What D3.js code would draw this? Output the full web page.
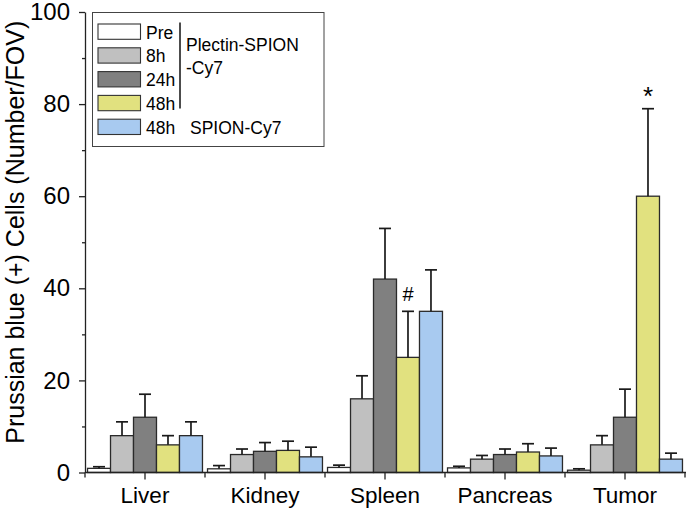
<!DOCTYPE html>
<html>
<head>
<meta charset="utf-8">
<script src="https://cdn.jsdelivr.net/npm/d3@7"></script>
<style>
html,body{margin:0;padding:0;background:#fff;}
svg{display:block;font-family:"Liberation Sans",Arial,Helvetica,sans-serif;}
</style>
</head>
<body>
<svg id="chart" width="689" height="511"></svg>
<script>
// ---- data ----
const categories = ["Liver", "Kidney", "Spleen", "Pancreas", "Tumor"];
const seriesNames = ["Pre", "8h", "24h", "48h", "48h SPION"];
const seriesLabels = ["Pre", "8h", "24h", "48h", "48h"];
const seriesColors = ["#ffffff", "#c0c0c0", "#808080", "#e1e17f", "#a8caf0"];
// values per series (order: Liver, Kidney, Spleen, Pancreas, Tumor)
const valPre   = [0.9, 0.8, 1.1, 1.0, 0.5];
const val8h    = [8.0, 3.9, 16.0, 2.9, 6.0];
const val24h   = [12.0, 4.6, 42.0, 3.9, 12.0];
const val48h   = [6.0, 4.8, 25.0, 4.45, 60.0];
const valSpion = [8.0, 3.4, 35.0, 3.6, 2.9];
const errPre   = [0.35, 0.7, 0.5, 0.35, 0.3];
const err8h    = [3.0, 1.2, 5.0, 0.8, 2.0];
const err24h   = [5.0, 1.9, 11.0, 1.2, 6.1];
const err48h   = [2.0, 2.0, 10.0, 1.8, 19.0];
const errSpion = [3.0, 2.1, 9.0, 1.7, 1.3];
const yTicks = [0, 20, 40, 60, 80, 100];
const yMinorTicks = [10, 30, 50, 70, 90];
const annotations = [{cat: "Spleen", series: "48h", text: "#"}, {cat: "Tumor", series: "48h", text: "*"}];

const values = [valPre, val8h, val24h, val48h, valSpion];
const errors = [errPre, err8h, err24h, err48h, errSpion];
const rows = [];
categories.forEach((c, ci) => {
  seriesNames.forEach((s, si) => {
    rows.push({cat: c, series: s, si: si, value: values[si][ci], err: errors[si][ci]});
  });
});

// ---- layout ----
const svg = d3.select("#chart");
const mLeft = 85, mRight = 685, mTop = 12, mBottom = 472.5;

const x0 = d3.scaleBand().domain(categories).range([mLeft, mRight]).padding(0);
const x1 = d3.scaleBand().domain(seriesNames).range([0, x0.bandwidth()]).paddingOuter(0.11).paddingInner(0);
const y = d3.scaleLinear().domain([0, 100]).range([mBottom, mTop]);

// bars
svg.append("g").selectAll("rect").data(rows).join("rect")
  .attr("x", d => x0(d.cat) + x1(d.series))
  .attr("y", d => y(d.value))
  .attr("width", x1.bandwidth())
  .attr("height", d => y(0) - y(d.value))
  .attr("fill", d => seriesColors[d.si])
  .attr("stroke", "#2a2a2a")
  .attr("stroke-width", 1.3);

// error bars (upper only)
const eg = svg.append("g").attr("stroke", "#1a1a1a").attr("stroke-width", 1.7);
eg.selectAll("line.v").data(rows).join("line").attr("class", "v")
  .attr("x1", d => x0(d.cat) + x1(d.series) + x1.bandwidth() / 2)
  .attr("x2", d => x0(d.cat) + x1(d.series) + x1.bandwidth() / 2)
  .attr("y1", d => y(d.value))
  .attr("y2", d => y(d.value + d.err));
eg.selectAll("line.c").data(rows).join("line").attr("class", "c")
  .attr("x1", d => x0(d.cat) + x1(d.series) + x1.bandwidth() / 2 - 6)
  .attr("x2", d => x0(d.cat) + x1(d.series) + x1.bandwidth() / 2 + 6)
  .attr("y1", d => y(d.value + d.err))
  .attr("y2", d => y(d.value + d.err));

// y axis
const yAxis = svg.append("g").attr("transform", `translate(${mLeft},0)`)
  .call(d3.axisLeft(y).tickValues(yTicks).tickSize(6).tickPadding(9).tickSizeOuter(0));
yAxis.select(".domain").attr("stroke", "#222").attr("stroke-width", 1.3);
yAxis.selectAll(".tick line").attr("stroke", "#222").attr("stroke-width", 1.3);
yAxis.selectAll(".tick text").attr("font-size", 24).attr("fill", "#000")
  .attr("font-family", "'Liberation Sans',Arial,sans-serif");
svg.append("g").attr("transform", `translate(${mLeft},0)`)
  .call(d3.axisLeft(y).tickValues(yMinorTicks).tickSize(3).tickFormat(""))
  .call(g => g.select(".domain").remove())
  .selectAll(".tick line").attr("stroke", "#222").attr("stroke-width", 1.3);

// x axis
const xAxis = svg.append("g").attr("transform", `translate(0,${mBottom})`)
  .call(d3.axisBottom(x0).tickSize(7).tickPadding(8).tickSizeOuter(0));
xAxis.select(".domain").attr("stroke", "#222").attr("stroke-width", 1.3)
  .attr("d", `M${mLeft},0H${mRight + 1}`);
xAxis.selectAll(".tick line").attr("stroke", "#222").attr("stroke-width", 1.3);
xAxis.selectAll(".tick text").attr("font-size", 22.5).attr("fill", "#000")
  .attr("font-family", "'Liberation Sans',Arial,sans-serif");
// category boundary ticks
const bounds = categories.map(c => x0(c)).concat([x0.range()[1]]);
svg.append("g").attr("stroke", "#222").attr("stroke-width", 1.3)
  .selectAll("line").data(bounds).join("line")
  .attr("x1", d => d).attr("x2", d => d)
  .attr("y1", mBottom).attr("y2", mBottom + 5);

// y label
svg.append("text")
  .attr("transform", `translate(15,${(mTop + mBottom) / 2 - 10}) rotate(-90)`)
  .attr("text-anchor", "middle")
  .attr("dominant-baseline", "central")
  .attr("font-size", 25)
  .text("Prussian blue (+) Cells (Number/FOV)");

// annotations
svg.append("g").selectAll("text").data(annotations).join("text")
  .attr("x", d => x0(d.cat) + x1(d.series) + x1.bandwidth() / 2)
  .attr("y", d => {
    const ci = categories.indexOf(d.cat), si = seriesNames.indexOf(d.series);
    return y(values[si][ci] + errors[si][ci]) - (d.text === "*" ? 4 : 10);
  })
  .attr("text-anchor", "middle")
  .attr("font-size", d => d.text === "*" ? 26 : 20)
  .text(d => d.text);

// legend
const lg = svg.append("g");
lg.append("rect").attr("x", 92.5).attr("y", 12.5).attr("width", 231.5).attr("height", 134)
  .attr("fill", "#fff").attr("stroke", "#444").attr("stroke-width", 1);
const items = lg.selectAll("g.item").data(seriesNames).join("g").attr("class", "item")
  .attr("transform", (d, i) => `translate(98,${24 + i * 23.8})`);
items.append("rect").attr("width", 42.5).attr("height", 15.3)
  .attr("fill", (d, i) => seriesColors[i]).attr("stroke", "#333").attr("stroke-width", 1.1);
items.append("text").attr("x", 48).attr("y", 14.5).attr("font-size", 17.5)
  .text((d, i) => seriesLabels[i]);
lg.append("line").attr("x1", 180).attr("x2", 180).attr("y1", 22.5).attr("y2", 108.5)
  .attr("stroke", "#111").attr("stroke-width", 1.5);
lg.append("text").attr("x", 186).attr("y", 51).attr("font-size", 17.5).text("Plectin-SPION");
lg.append("text").attr("x", 186).attr("y", 74).attr("font-size", 17.5).text("-Cy7");
lg.append("text").attr("x", 190).attr("y", 133.5).attr("font-size", 17.5).text("SPION-Cy7");
</script>
</body>
</html>
